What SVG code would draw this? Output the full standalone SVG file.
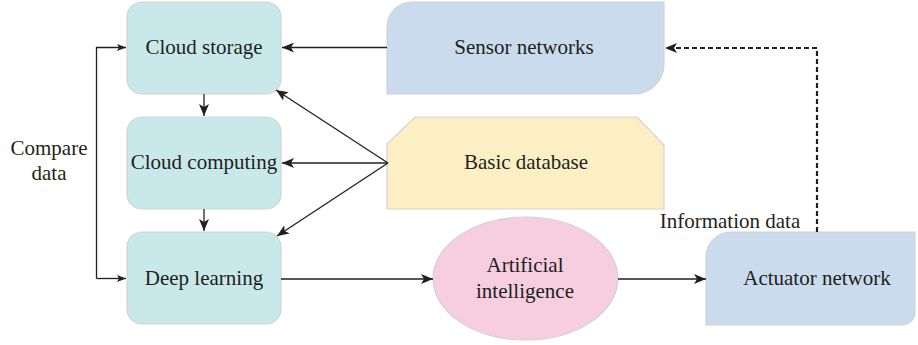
<svg xmlns="http://www.w3.org/2000/svg" width="918" height="345" viewBox="0 0 918 345">
<defs>
<style>
text{font-family:"Liberation Serif","Times New Roman",serif;font-size:21px;fill:#231f20;text-anchor:middle}
.box{fill:#c9e8ea;stroke:#d3d3d3;stroke-width:1.2}
.ln{stroke:#231f20;stroke-width:1.3;fill:none}
.dash{stroke:#231f20;stroke-width:2.2;fill:none;stroke-dasharray:5 3}
</style>
<marker id="ah" viewBox="0 0 12 10" refX="12" refY="5" markerWidth="12" markerHeight="10" markerUnits="userSpaceOnUse" orient="auto"><path d="M0,0 L12,5 L0,10 L3,5 Z" fill="#231f20"/></marker>
<marker id="as" viewBox="0 0 9 7" refX="9" refY="3.5" markerWidth="9" markerHeight="7" markerUnits="userSpaceOnUse" orient="auto"><path d="M0,0 L9,3.5 L0,7 L2,3.5 Z" fill="#231f20"/></marker>
</defs>
<g id="cloud-storage"><rect class="box" x="127" y="2" width="154" height="92" rx="15"/><text x="204" y="54">Cloud storage</text></g>
<g id="cloud-computing"><rect class="box" x="127" y="117" width="154" height="92" rx="15"/><text x="204" y="169">Cloud computing</text></g>
<g id="deep-learning"><rect class="box" x="127" y="232" width="154" height="92" rx="15"/><text x="204" y="285">Deep learning</text></g>
<g id="sensor-networks"><path d="M412,2 H664 V64 A30,30 0 0 1 634,94 H387 V27 A25,25 0 0 1 412,2 Z" fill="#c9dbed" stroke="#d3d3d3" stroke-width="1.2"/><text x="524" y="54">Sensor networks</text></g>
<g id="basic-database"><path d="M415,117 H637 L664,145 V209 H387 V144 Z" fill="#fdefc4" stroke="#d3d3d3" stroke-width="1.2"/><text x="526" y="169">Basic database</text></g>
<g id="artificial-intelligence"><ellipse cx="525.5" cy="278.5" rx="92.5" ry="61.5" fill="#f7cde0" stroke="#d3d3d3" stroke-width="1.2"/><text x="525" y="272">Artificial</text><text x="525" y="298">intelligence</text></g>
<g id="actuator-network"><path d="M731,232 H915 V312 A13,13 0 0 1 902,325 H706 V257 A25,25 0 0 1 731,232 Z" fill="#c9dbed" stroke="#d3d3d3" stroke-width="1.2"/><text x="817" y="285">Actuator network</text></g>
<g id="labels"><text x="49" y="155">Compare</text><text x="49" y="180">data</text><text x="730" y="228">Information data</text></g>
<g id="connectors">
<line class="ln" x1="387" y1="47.5" x2="282" y2="47.5" marker-end="url(#ah)"/>
<line class="ln" x1="204" y1="94" x2="204" y2="116" marker-end="url(#ah)"/>
<line class="ln" x1="204" y1="209" x2="204" y2="231" marker-end="url(#ah)"/>
<path class="ln" d="M96.5,278.5 V47.5 H126" marker-end="url(#as)"/>
<path class="ln" d="M96.5,278.5 H126" marker-end="url(#as)"/>
<line class="ln" x1="388" y1="163" x2="276" y2="90" marker-end="url(#ah)"/>
<line class="ln" x1="388" y1="163" x2="282" y2="163" marker-end="url(#ah)"/>
<line class="ln" x1="388" y1="163" x2="277" y2="236" marker-end="url(#ah)"/>
<line class="ln" x1="281" y1="279" x2="433" y2="279" marker-end="url(#ah)"/>
<line class="ln" x1="618" y1="279" x2="706" y2="279" marker-end="url(#ah)"/>
<polyline class="dash" points="817,232 817,48 665,48" marker-end="url(#ah)"/>
</g>
</svg>
